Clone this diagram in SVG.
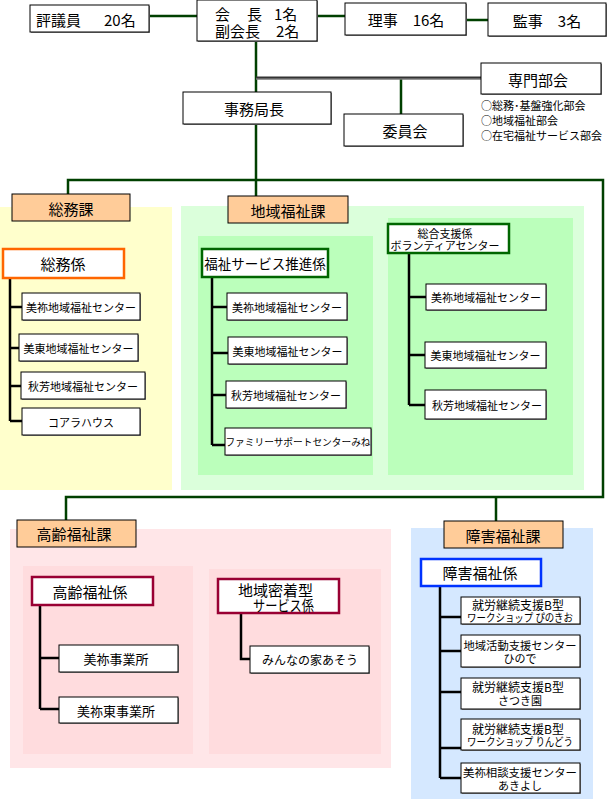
<svg xmlns="http://www.w3.org/2000/svg" width="609" height="799" viewBox="0 0 609 799">
<style>
text{font-family:"Noto Sans CJK JP","Noto Sans",sans-serif;fill:#000;}
.t15{font-size:15px;}
.t14{font-size:14px;}
.t13{font-size:13px;}
.t12{font-size:12px;}
.t11{font-size:11px;}
.c{text-anchor:middle;dominant-baseline:central;}
.s{text-anchor:start;dominant-baseline:central;}
.box{fill:#fff;stroke:#000;stroke-width:1;}
.sh{fill:#8a8a8a;}
.hdr{fill:#FFCC99;stroke:#000;stroke-width:1;}
.gc{stroke:#004000;stroke-width:2.5;fill:none;}
.bc{stroke:#000;stroke-width:2.5;fill:none;}
.orange{fill:#fff;stroke:#FF6600;stroke-width:2.5;}
.dgreen{fill:#fff;stroke:#006600;stroke-width:2.5;}
.maroon{fill:#fff;stroke:#990033;stroke-width:2.5;}
.blue{fill:#fff;stroke:#0033FF;stroke-width:2.5;}
</style>
<rect x="0" y="0" width="609" height="799" fill="#fff"/>
<g id="backgrounds">
<rect x="0" y="207" width="172" height="283" fill="#FFFFCC"/>
<rect x="181" y="206" width="403" height="284" fill="#DBFFDB"/>
<rect x="198" y="236" width="175" height="239" fill="#BBFFBB"/>
<rect x="388" y="218" width="185" height="257" fill="#BBFFBB"/>
<rect x="10" y="529" width="381" height="239" fill="#FFE6E8"/>
<rect x="23" y="566" width="170" height="188" fill="#FFDCDE"/>
<rect x="209" y="569" width="172" height="185" fill="#FFDCDE"/>
<rect x="411" y="528" width="182" height="271" fill="#D5E8FF"/>
</g>
<g id="connectors">
<path class="gc" d="M149 16H197M317 16H345M466 20H488M256 41V92M401 78V114M256 124V196M68 194V180H603V497H66V520M496 497V521"/>
<line x1="256" y1="78" x2="481" y2="78" stroke="#333" stroke-width="3"/>
<line x1="256" y1="79" x2="481" y2="79" stroke="#999" stroke-width="1"/>
<path class="bc" d="M10 278V421M10 307H22M10 348H19M10 386H21M10 421H22"/>
<path class="bc" d="M212 277V445M212 307H227M212 353H228M212 395H226M212 445H225"/>
<path class="bc" d="M409 253V405M409 297H426M409 355H425M409 405H425"/>
<path class="bc" d="M40 605V709M40 658H59M40 709H59"/>
<path class="bc" d="M241 613V659H250"/>
<path class="bc" d="M440 586V778M440 617H461M440 651H461M440 692H461M440 748H461M440 778H461"/>
</g>
<g id="hyogiin"><rect class="sh" x="31" y="6" width="119" height="27"/><rect class="box" x="30" y="5" width="119" height="27"/><text class="s t15" y="19"><tspan x="36">評議員</tspan><tspan x="104">20名</tspan></text></g>
<g id="kaicho"><rect class="sh" x="198" y="1" width="120" height="41"/><rect class="box" x="197" y="0" width="120" height="41"/><text class="s t15"><tspan x="215" y="13">会</tspan><tspan x="247" y="13">長</tspan><tspan x="274" y="13">1名</tspan><tspan x="215" y="30">副会長</tspan><tspan x="276" y="30">2名</tspan></text></g>
<g id="riji"><rect class="sh" x="346" y="4" width="121" height="32"/><rect class="box" x="345" y="3" width="121" height="32"/><text class="c t15" x="406" y="19">理事　16名</text></g>
<g id="kanji"><rect class="sh" x="489" y="4" width="118" height="33"/><rect class="box" x="488" y="3" width="118" height="33"/><text class="c t15" x="547" y="20">監事　3名</text></g>
<g id="senmon"><rect class="sh" x="482" y="64" width="120" height="31"/><rect class="box" x="481" y="63" width="120" height="31"/><text class="c t15" x="538" y="79">専門部会</text>
<text class="s t11"><tspan x="481" y="105">○総務･基盤強化部会</tspan><tspan x="481" y="120">○地域福祉部会</tspan><tspan x="481" y="135">○在宅福祉サービス部会</tspan></text></g>
<g id="jimukyokucho"><rect class="sh" x="184" y="93" width="148" height="32"/><rect class="box" x="183" y="92" width="148" height="32"/><text class="c t15" x="254" y="108">事務局長</text></g>
<g id="iinkai"><rect class="sh" x="345" y="115" width="119" height="32"/><rect class="box" x="344" y="114" width="119" height="32"/><text class="c t15" x="405" y="130">委員会</text></g>
<g id="somuka"><rect class="hdr" x="12" y="194" width="118" height="27"/><text class="c t15" x="71" y="208">総務課</text></g>
<g id="somugakari"><rect class="orange" x="3" y="249" width="121" height="29"/><text class="c t15" x="63" y="263.5">総務係</text></g>
<g id="somu-1"><rect class="sh" x="23" y="294" width="118" height="27"/><rect class="box" x="22" y="293" width="118" height="27"/><text class="c t11" x="81" y="306.5">美祢地域福祉センター</text></g>
<g id="somu-2"><rect class="sh" x="20" y="335" width="119" height="27"/><rect class="box" x="19" y="334" width="119" height="27"/><text class="c t11" x="78.5" y="347.5">美東地域福祉センター</text></g>
<g id="somu-3"><rect class="sh" x="22" y="373" width="124" height="27"/><rect class="box" x="21" y="372" width="124" height="27"/><text class="c t11" x="83" y="385.5">秋芳地域福祉センター</text></g>
<g id="somu-4"><rect class="sh" x="23" y="409" width="118" height="27"/><rect class="box" x="22" y="408" width="118" height="27"/><text class="c t11" x="81" y="421.5">コアラハウス</text></g>
<g id="chiikifukushika"><rect class="hdr" x="228" y="196" width="120" height="27"/><text class="c t15" x="288" y="210">地域福祉課</text></g>
<g id="suishingakari"><rect class="dgreen" x="202" y="249" width="126" height="28"/><text class="c" style="font-size:13.5px" x="265" y="263">福祉サービス推進係</text></g>
<g id="suishin-1"><rect class="sh" x="228" y="294" width="120" height="27"/><rect class="box" x="227" y="293" width="120" height="27"/><text class="c t11" x="287" y="306.5">美祢地域福祉センター</text></g>
<g id="suishin-2"><rect class="sh" x="229" y="338" width="119" height="27"/><rect class="box" x="228" y="337" width="119" height="27"/><text class="c t11" x="287.5" y="350.5">美東地域福祉センター</text></g>
<g id="suishin-3"><rect class="sh" x="227" y="382" width="120" height="27"/><rect class="box" x="226" y="381" width="120" height="27"/><text class="c t11" x="286" y="394.5">秋芳地域福祉センター</text></g>
<g id="suishin-4"><rect class="sh" x="226" y="429" width="146" height="27"/><rect class="box" x="225" y="428" width="146" height="27"/><text class="c" style="font-size:9.7px" x="298" y="441.5">ファミリーサポートセンターみね</text></g>
<g id="sogoshiengakari"><rect class="dgreen" x="388" y="224" width="121" height="29"/><text class="c t11"><tspan x="445" y="233">総合支援係</tspan><tspan x="445" y="245">ボランティアセンター</tspan></text></g>
<g id="sogo-1"><rect class="sh" x="427" y="285" width="120" height="26"/><rect class="box" x="426" y="284" width="120" height="26"/><text class="c t11" x="486" y="297">美祢地域福祉センター</text></g>
<g id="sogo-2"><rect class="sh" x="426" y="343" width="121" height="26"/><rect class="box" x="425" y="342" width="121" height="26"/><text class="c t11" x="485.5" y="355">美東地域福祉センター</text></g>
<g id="sogo-3"><rect class="sh" x="426" y="391" width="121" height="29"/><rect class="box" x="425" y="390" width="121" height="29"/><text class="c t11" x="487" y="404.5">秋芳地域福祉センター</text></g>
<g id="koreifukushika"><rect class="hdr" x="17" y="520" width="119" height="27"/><text class="c t15" x="74" y="533.5">高齢福祉課</text></g>
<g id="koreigakari"><rect class="maroon" x="32" y="577" width="121" height="28"/><text class="c t15" x="90" y="591">高齢福祉係</text></g>
<g id="korei-1"><rect class="sh" x="60" y="646" width="119" height="27"/><rect class="box" x="59" y="645" width="119" height="27"/><text class="c t13" x="116" y="658.5">美祢事業所</text></g>
<g id="korei-2"><rect class="sh" x="60" y="698" width="119" height="26"/><rect class="box" x="59" y="697" width="119" height="26"/><text class="c t13" x="116" y="710">美祢東事業所</text></g>
<g id="mitchakugakari"><rect class="maroon" x="218" y="579" width="121" height="34"/><text class="s t15"><tspan x="238" y="589">地域密着型</tspan><tspan x="253" y="604" textLength="61" lengthAdjust="spacingAndGlyphs">サービス係</tspan></text></g>
<g id="mitchaku-1"><rect class="sh" x="251" y="647" width="119" height="27"/><rect class="box" x="250" y="646" width="119" height="27"/><text class="c t12" x="310" y="659.5">みんなの家あそう</text></g>
<g id="shogaifukushika"><rect class="hdr" x="444" y="521" width="119" height="27"/><text class="c t15" x="503" y="535">障害福祉課</text></g>
<g id="shogaigakari"><rect class="blue" x="421" y="559" width="120" height="27"/><text class="c t15" x="480" y="572.5">障害福祉係</text></g>
<g id="shogai-1"><rect class="sh" x="462" y="598" width="119" height="27"/><rect class="box" x="461" y="597" width="119" height="27"/><text class="c t12"><tspan x="518" y="604">就労継続支援B型</tspan><tspan x="520" y="617" style="font-size:11px" textLength="106" lengthAdjust="spacingAndGlyphs">ワークショップ ぴのきお</tspan></text></g>
<g id="shogai-2"><rect class="sh" x="462" y="636" width="119" height="32"/><rect class="box" x="461" y="635" width="119" height="32"/><text class="c t11"><tspan x="520" y="644.5" textLength="113" lengthAdjust="spacingAndGlyphs">地域活動支援センター</tspan><tspan x="520" y="658">ひので</tspan></text></g>
<g id="shogai-3"><rect class="sh" x="462" y="679" width="119" height="31"/><rect class="box" x="461" y="678" width="119" height="31"/><text class="c t12"><tspan x="518" y="686">就労継続支援B型</tspan><tspan x="520" y="699.5" style="font-size:11px">さつき園</tspan></text></g>
<g id="shogai-4"><rect class="sh" x="462" y="720" width="119" height="31"/><rect class="box" x="461" y="719" width="119" height="31"/><text class="c t12"><tspan x="518" y="727.5">就労継続支援B型</tspan><tspan x="520" y="741" style="font-size:11px" textLength="106" lengthAdjust="spacingAndGlyphs">ワークショップ りんどう</tspan></text></g>
<g id="shogai-5"><rect class="sh" x="462" y="764" width="119" height="30"/><rect class="box" x="461" y="763" width="119" height="30"/><text class="c t11"><tspan x="520" y="771.5" textLength="114" lengthAdjust="spacingAndGlyphs">美祢相談支援センター</tspan><tspan x="520" y="785">あきよし</tspan></text></g>
</svg>
